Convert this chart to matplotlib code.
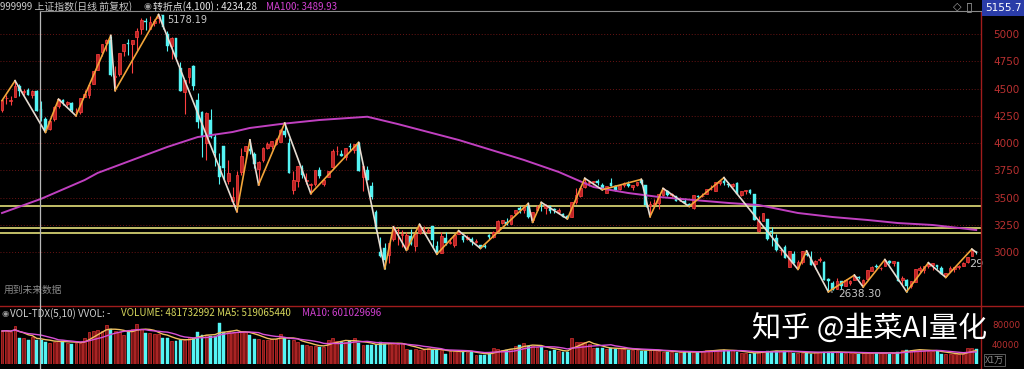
import matplotlib
matplotlib.use('Agg')
import matplotlib.pyplot as plt
import numpy as np
import pandas as pd
from matplotlib.lines import Line2D

plt.rcParams['font.family'] = ['Noto Sans CJK SC', 'DejaVu Sans']

# ---------------- data ----------------
opens = [4304, 4414, 4387, 4426, 4520, 4471, 4483, 4441, 4479, 4311,
         4220, 4126, 4218, 4336, 4397, 4361, 4372, 4281, 4285, 4424,
         4439, 4540, 4673, 4836, 4916, 4943, 4603, 4633, 4844, 4919,
         4912, 4972, 5045, 5119, 5050, 5101, 5144, 5175, 5004, 4890,
         4967, 4689, 4471, 4604, 4711, 4399, 4289, 3997, 4214, 4058,
         3793, 3975, 3654, 3467, 3433, 3733, 3924, 3949, 3902, 3761,
         3842, 3954, 3972, 3996, 4013, 4114, 4005, 3573, 3652, 3768,
         3650, 3614, 3626, 3751, 3628, 3686, 3786, 3928, 3901, 3870,
         3977, 3939, 4004, 3687, 3753, 3609, 3373, 3004, 3042, 2978,
         3125, 3203, 3157, 3027, 3149, 3054, 3180, 3190, 3190, 3237,
         3054, 2998, 3133, 3085, 3070, 3172, 3148, 3124, 3122, 3096,
         3065, 3061, 3156, 3144, 3190, 3266, 3276, 3259, 3358, 3406,
         3385, 3427, 3298, 3386, 3433, 3408, 3420, 3393, 3371, 3351,
         3328, 3324, 3463, 3514, 3601, 3633, 3646, 3653, 3616, 3544,
         3631, 3606, 3577, 3618, 3630, 3602, 3615, 3659, 3616, 3427,
         3442, 3450, 3525, 3558, 3524, 3514, 3466, 3466, 3446, 3403,
         3517, 3515, 3533, 3577, 3566, 3639, 3657, 3624, 3606, 3635,
         3528, 3566, 3570, 3536, 3196, 3291, 3309, 3194, 3131, 3022,
         3050, 2867, 2984, 2858, 2914, 2987, 2938, 2891, 2932, 2909,
         2756, 2718, 2666, 2733, 2689, 2714, 2744, 2776, 2700, 2752,
         2832, 2874, 2853, 2871, 2923, 2898, 2913, 2745, 2749, 2689,
         2732, 2838, 2838, 2870, 2885, 2880, 2860, 2782, 2833, 2851,
         2863, 2874, 2907, 2970, 3005]
highs = [4398, 4444, 4433, 4572, 4545, 4499, 4506, 4488, 4489, 4386,
         4236, 4206, 4336, 4402, 4409, 4389, 4375, 4318, 4418, 4489,
         4529, 4658, 4814, 4911, 4958, 4986, 4708, 4829, 4911, 4951,
         4947, 5051, 5146, 5147, 5164, 5138, 5178, 5176, 5029, 4970,
         4967, 4744, 4577, 4691, 4720, 4456, 4297, 4287, 4317, 4080,
         3908, 3975, 3846, 3601, 3748, 3959, 3975, 4030, 3916, 3835,
         3962, 4007, 4017, 4043, 4132, 4184, 4050, 3742, 3789, 3802,
         3722, 3632, 3756, 3783, 3681, 3744, 3943, 3970, 3937, 3956,
         4000, 3994, 4006, 3794, 3792, 3640, 3388, 3140, 3085, 3085,
         3233, 3218, 3202, 3183, 3217, 3174, 3256, 3243, 3223, 3238,
         3101, 3182, 3186, 3134, 3157, 3197, 3151, 3156, 3136, 3122,
         3070, 3073, 3172, 3192, 3292, 3299, 3315, 3339, 3391, 3423,
         3425, 3447, 3369, 3437, 3457, 3440, 3422, 3403, 3408, 3362,
         3345, 3459, 3585, 3596, 3678, 3657, 3653, 3668, 3631, 3607,
         3678, 3617, 3617, 3640, 3654, 3616, 3648, 3668, 3621, 3470,
         3484, 3538, 3585, 3568, 3546, 3515, 3509, 3494, 3447, 3521,
         3523, 3540, 3581, 3617, 3643, 3652, 3684, 3641, 3632, 3641,
         3565, 3573, 3580, 3538, 3328, 3362, 3309, 3235, 3166, 3042,
         3068, 3011, 3008, 2933, 3008, 3012, 3011, 2932, 2954, 2916,
         2768, 2739, 2765, 2733, 2752, 2745, 2791, 2783, 2753, 2839,
         2871, 2889, 2868, 2933, 2930, 2919, 2913, 2786, 2752, 2741,
         2850, 2874, 2878, 2904, 2903, 2880, 2876, 2813, 2875, 2864,
         2882, 2911, 2960, 3029, 3016]
lows = [4287, 4358, 4345, 4424, 4432, 4441, 4437, 4410, 4292, 4205,
        4099, 4124, 4207, 4325, 4347, 4343, 4289, 4251, 4271, 4423,
        4413, 4540, 4669, 4797, 4846, 4614, 4482, 4616, 4797, 4812,
        4647, 4855, 4997, 5036, 5050, 5073, 5103, 5048, 4843, 4767,
        4780, 4476, 4264, 4552, 4483, 4139, 3875, 3847, 4043, 3795,
        3629, 3653, 3628, 3421, 3373, 3707, 3851, 3899, 3773, 3618,
        3826, 3946, 3944, 3985, 4008, 4055, 3722, 3537, 3600, 3680,
        3629, 3538, 3603, 3681, 3603, 3686, 3776, 3892, 3884, 3849,
        3925, 3910, 3743, 3558, 3663, 3490, 3191, 2953, 2850, 2906,
        3102, 3068, 3053, 3019, 3066, 3011, 3163, 3165, 3173, 3049,
        2983, 2990, 3063, 3074, 3049, 3168, 3093, 3111, 3067, 3086,
        3036, 3039, 3126, 3134, 3186, 3260, 3252, 3256, 3338, 3357,
        3362, 3310, 3275, 3374, 3381, 3353, 3358, 3363, 3349, 3323,
        3306, 3322, 3444, 3508, 3592, 3611, 3618, 3620, 3573, 3560,
        3604, 3565, 3570, 3600, 3596, 3568, 3607, 3629, 3412, 3327,
        3425, 3400, 3517, 3514, 3505, 3468, 3466, 3453, 3420, 3394,
        3489, 3502, 3533, 3567, 3563, 3613, 3618, 3601, 3598, 3533,
        3515, 3538, 3538, 3295, 3189, 3288, 3115, 3056, 3016, 2973,
        2949, 2867, 2900, 2844, 2894, 2968, 2880, 2851, 2915, 2747,
        2638, 2653, 2660, 2667, 2688, 2697, 2742, 2756, 2682, 2752,
        2826, 2857, 2840, 2871, 2895, 2876, 2741, 2700, 2639, 2675,
        2732, 2823, 2814, 2855, 2837, 2844, 2805, 2770, 2833, 2821,
        2851, 2872, 2901, 2969, 2984]
closes = [4398, 4414, 4393, 4527, 4476, 4476, 4441, 4480, 4298, 4229,
          4112, 4205, 4333, 4401, 4375, 4378, 4308, 4283, 4417, 4446,
          4529, 4657, 4813, 4910, 4941, 4620, 4611, 4828, 4910, 4909,
          4947, 5023, 5131, 5113, 5106, 5121, 5166, 5062, 4887, 4967,
          4785, 4478, 4576, 4690, 4527, 4192, 4053, 4277, 4053, 3912,
          3687, 3776, 3727, 3507, 3709, 3878, 3970, 3924, 3806, 3823,
          3957, 3992, 4017, 4026, 4124, 4071, 3726, 3663, 3789, 3706,
          3664, 3623, 3756, 3695, 3661, 3744, 3928, 3928, 3886, 3955,
          3965, 3994, 3748, 3794, 3664, 3508, 3210, 2965, 2927, 3084,
          3232, 3206, 3167, 3160, 3080, 3170, 3243, 3198, 3200, 3115,
          3005, 3152, 3086, 3098, 3156, 3186, 3116, 3143, 3092, 3101,
          3038, 3053, 3143, 3183, 3288, 3293, 3262, 3338, 3391, 3387,
          3425, 3321, 3369, 3412, 3430, 3434, 3375, 3387, 3383, 3325,
          3317, 3460, 3523, 3590, 3647, 3641, 3650, 3633, 3581, 3607,
          3605, 3569, 3617, 3631, 3610, 3616, 3648, 3636, 3436, 3445,
          3456, 3537, 3585, 3525, 3537, 3470, 3472, 3456, 3435, 3521,
          3510, 3516, 3580, 3579, 3643, 3652, 3636, 3613, 3628, 3534,
          3564, 3573, 3539, 3296, 3288, 3362, 3125, 3186, 3017, 3023,
          2950, 3008, 2901, 2914, 3008, 2977, 2881, 2917, 2939, 2750,
          2736, 2656, 2738, 2689, 2750, 2739, 2781, 2763, 2746, 2837,
          2867, 2863, 2860, 2927, 2903, 2919, 2741, 2767, 2688, 2733,
          2850, 2860, 2874, 2897, 2901, 2863, 2805, 2810, 2860, 2864,
          2870, 2905, 2955, 3019, 2999]
volumes = [66000, 67000, 64000, 76000, 52000, 53000, 48000, 54000, 49000, 48173,
           44000, 43000, 45000, 46600, 46000, 42000, 41000, 43000, 42000, 52000,
           64000, 66000, 68000, 66000, 78000, 70000, 66000, 64000, 58600, 66000,
           70000, 80000, 70600, 62000, 63000, 61000, 60000, 52000, 53000, 46000,
           46000, 48600, 49000, 54000, 53000, 64000, 58600, 59000, 56600, 56000,
           82000, 64000, 65000, 63000, 64000, 66000, 64000, 58600, 50000, 51000,
           49000, 48000, 50000, 51000, 60000, 52000, 48000, 49000, 44000, 38000,
           39000, 37000, 36000, 34000, 35000, 48600, 52000, 46000, 45000, 44000,
           46000, 52000, 42000, 38600, 39000, 38000, 38600, 44000, 41000, 42000,
           40000, 41000, 42000, 30600, 29000, 30000, 29000, 28000, 32000, 28600,
           29000, 28000, 20000, 26000, 27000, 26000, 25000, 25000, 24000, 18000,
           18600, 19000, 22000, 32000, 30000, 28000, 29000, 30000, 36000, 38000,
           42000, 36000, 37000, 34000, 36000, 28600, 26000, 28600, 26000, 25000,
           24000, 52000, 44000, 45000, 44000, 40000, 32000, 33000, 32000, 31000,
           32000, 30000, 32000, 30000, 28000, 29000, 28000, 27000, 27000, 28000,
           28000, 26000, 24000, 25000, 24000, 23000, 24000, 24000, 25000, 24000,
           24000, 26000, 28000, 29000, 28000, 28000, 28000, 26000, 28000, 24000,
           22000, 22000, 21000, 22000, 26000, 27000, 26000, 25000, 26000, 26000,
           26000, 26000, 22000, 23000, 22000, 22000, 21000, 24000, 24000, 25000,
           24000, 24000, 24000, 22000, 22000, 23000, 22000, 21000, 22000, 22000,
           22000, 23000, 22000, 22000, 21000, 22000, 24000, 28600, 29000, 28600,
           28000, 28600, 26000, 26000, 27000, 26000, 20000, 20000, 21000, 20000,
           20000, 20000, 32000, 32000, 30000]

zig_idx = [0, 3, 10, 13, 17, 25, 26, 36, 54, 57, 59, 65, 71, 82, 88, 90, 93, 96,
           100, 105, 110, 121, 122, 124, 130, 134, 138, 147, 149, 152, 158, 166,
           183, 185, 190, 196, 198, 203, 208, 213, 217, 223, 224]
zig_val = [4390, 4572, 4099, 4402, 4251, 4986, 4482, 5178, 3373, 4030, 3618, 4184,
           3538, 4006, 2850, 3233, 3019, 3256, 2983, 3197, 3036, 3447, 3275, 3457,
           3306, 3678, 3573, 3668, 3327, 3585, 3420, 3684, 2844, 3012, 2638, 2791,
           2682, 2933, 2639, 2904, 2770, 3029, 3000]

ma100_idx = [0, 9, 19, 22, 30, 38, 45, 53, 57, 64, 73, 84, 91, 105, 120, 128, 136,
             144, 151, 159, 167, 174, 183, 191, 199, 206, 214, 220, 224]
ma100_val = [3360, 3490, 3662, 3727, 3846, 3965, 4056, 4102, 4139, 4175, 4212, 4242,
             4175, 4029, 3846, 3736, 3598, 3543, 3507, 3479, 3452, 3433, 3360, 3323,
             3296, 3268, 3250, 3223, 3204]

level_lines = [3427, 3220, 3180]
price_ticks = [3000, 3250, 3500, 3750, 4000, 4250, 4500, 4750, 5000]
vol_ticks = [40000, 80000]

# ---------------- figure ----------------
W, H = 1024, 369
fig = plt.figure(figsize=(W / 100, H / 100), dpi=100, facecolor='black')


def fx(px):
    return px / W


def fy(py):
    return 1 - py / H


RIGHT = 981
ax = fig.add_axes([0, fy(305), fx(RIGHT), fy(12) - fy(305)], facecolor='black')
axv = fig.add_axes([0, fy(364), fx(RIGHT), fy(306) - fy(364)], facecolor='black')

n = len(closes)
x = np.arange(n)
XL = (-0.46, 225.1)

UP_EDGE = '#ff4040'
UP_FACE = '#c02424'
DN = '#54f4f4'

o = np.array(opens, float)
c = np.array(closes, float)
hi = np.array(highs, float)
lo = np.array(lows, float)
up = c >= o

# candles
ax.vlines(x[up], lo[up], hi[up], color=UP_EDGE, lw=0.8, zorder=3)
ax.vlines(x[~up], lo[~up], hi[~up], color=DN, lw=0.8, zorder=3)
body_h = np.maximum(np.abs(c - o), 3)
ax.bar(x[up], body_h[up], bottom=np.minimum(o, c)[up], width=0.62,
       color=UP_FACE, edgecolor=UP_EDGE, linewidth=0.5, zorder=3)
ax.bar(x[~up], body_h[~up], bottom=np.minimum(o, c)[~up], width=0.62,
       color=DN, edgecolor=DN, linewidth=0.3, zorder=3)

# grid
for t in price_ticks:
    ax.axhline(t, color='#6a1414', lw=0.7, ls=(0, (1, 2)), zorder=1)

# horizontal support lines
for lv in level_lines:
    ax.axhline(lv, color='#e2df7a', lw=1.2, zorder=2)

# MA100
ax.plot(ma100_idx, ma100_val, color='#c040c0', lw=1.4, zorder=4)

# zigzag
for k in range(len(zig_idx) - 1):
    col = '#f2a53a' if zig_val[k + 1] > zig_val[k] else '#e6dcd2'
    ax.plot(zig_idx[k:k + 2], zig_val[k:k + 2], color=col, lw=1.2, zorder=5)

ax.set_xlim(*XL)
ax.set_ylim(2517, 5201.6)
ax.yaxis.tick_right()
ax.set_yticks(price_ticks)
ax.set_yticklabels([str(t) for t in price_ticks])
ax.tick_params(axis='y', length=0, pad=9, labelsize=7.5, labelcolor='#b83030')
for lb in ax.get_yticklabels():
    lb.set_family('DejaVu Sans')
ax.set_xticks([])
for s in ax.spines.values():
    s.set_visible(False)

# annotations
ax.annotate('5178.19', xy=(36, 5178.19), xytext=(6, -4), textcoords='offset points',
            color='#c8c8c8', fontsize=7, va='center', family='DejaVu Sans',
            arrowprops=dict(arrowstyle='-', color='#c8c8c8', lw=0.7), zorder=6)
ax.annotate('2638.30', xy=(190, 2638.3), xytext=(7, -1.5), textcoords='offset points',
            color='#c8c8c8', fontsize=7.5, va='center', family='DejaVu Sans',
            arrowprops=dict(arrowstyle='-', color='#c8c8c8', lw=0.7), zorder=6)
ax.text(222.4, 2893, '29', color='#c8c8c8', fontsize=8, va='center', family='DejaVu Sans')
ax.text(0.3, 2655, '用到未来数据', color='#8a8a8a', fontsize=7, va='center')

# volume panel
v = np.array(volumes, float)
axv.bar(x[up], v[up], width=0.66, color='#7c1616', edgecolor='#d83030', linewidth=0.5)
axv.bar(x[~up], v[~up], width=0.66, color=DN, edgecolor=DN, linewidth=0.3)
vs = pd.Series(volumes, dtype=float)
axv.plot(x, vs.rolling(5, min_periods=1).mean(), color='#f0c060', lw=1.0)
axv.plot(x, vs.rolling(10, min_periods=1).mean(), color='#d850d8', lw=1.0)
axv.set_xlim(*XL)
axv.set_ylim(0, 116000)
axv.yaxis.tick_right()
axv.set_yticks(vol_ticks)
axv.set_yticklabels([str(t) for t in vol_ticks])
axv.tick_params(axis='y', length=0, pad=8, labelsize=6.3, labelcolor='#b83030')
for lb in axv.get_yticklabels():
    lb.set_family('DejaVu Sans')
axv.set_xticks([])
for s in axv.spines.values():
    s.set_visible(False)

# frame lines
fig.add_artist(Line2D([fx(RIGHT), fx(RIGHT)], [fy(12), 0], transform=fig.transFigure,
                      color='#a01c1c', lw=1.0))
fig.add_artist(Line2D([0, 1], [fy(305.5), fy(305.5)], transform=fig.transFigure,
                      color='#a01c1c', lw=1.0))
# crosshair
fig.add_artist(Line2D([fx(39.5), fx(39.5)], [fy(10.5), 0], transform=fig.transFigure,
                      color='#b8b8b8', lw=0.9, zorder=10))
fig.add_artist(Line2D([fx(39.5), fx(RIGHT)], [fy(10.5), fy(10.5)], transform=fig.transFigure,
                      color='#8a8a8a', lw=0.8, zorder=10))

# header texts
HFS = 7.1
fig.text(fx(0), fy(6.5), '999999 上证指数(日线 前复权)', color='#c8c8c8', fontsize=HFS, va='center')
fig.text(fx(143), fy(6.5), '◉', color='#9a9a9a', fontsize=6.5, va='center', family='DejaVu Sans')
fig.text(fx(153), fy(6.5), '转折点(4,100) : 4234.28', color='#e4e4e4', fontsize=HFS, va='center')
fig.text(fx(266), fy(6.5), 'MA100: 3489.93', color='#d040d0', fontsize=HFS, va='center')
fig.text(fx(953), fy(7), '◇', color='#a0a0a0', fontsize=8, va='center', family='DejaVu Sans')
fig.text(fx(966), fy(7), '▯', color='#a0a0a0', fontsize=9, va='center', family='DejaVu Sans')
fig.text(fx(985), fy(8), '5155.7', color='white', fontsize=7.5, va='center', family='DejaVu Sans',
         bbox=dict(boxstyle='square,pad=0.3', fc='#2a3ca8', ec='none'))

fig.text(fx(1), fy(313.5), '◉', color='#9a9a9a', fontsize=6, va='center', family='DejaVu Sans')
fig.text(fx(10), fy(313.5), 'VOL-TDX(5,10) VVOL: -', color='#d0d0d0', fontsize=HFS, va='center')
fig.text(fx(121), fy(313.5), 'VOLUME: 481732992 MA5: 519065440', color='#d6d65c',
         fontsize=HFS, va='center')
fig.text(fx(302), fy(313.5), 'MA10: 601029696', color='#d040d0', fontsize=HFS, va='center')

fig.text(fx(985), fy(360), 'X1万', color='#8a8a8a', fontsize=6.5, va='center',
         bbox=dict(boxstyle='square,pad=0.15', fc='black', ec='#6a6a6a', lw=0.6))

# watermark
fig.text(fx(752), fy(338), '知乎 @韭菜AI量化', color='white', fontsize=21, va='baseline', zorder=20)

fig.savefig('out.png', dpi=100, facecolor='black')
